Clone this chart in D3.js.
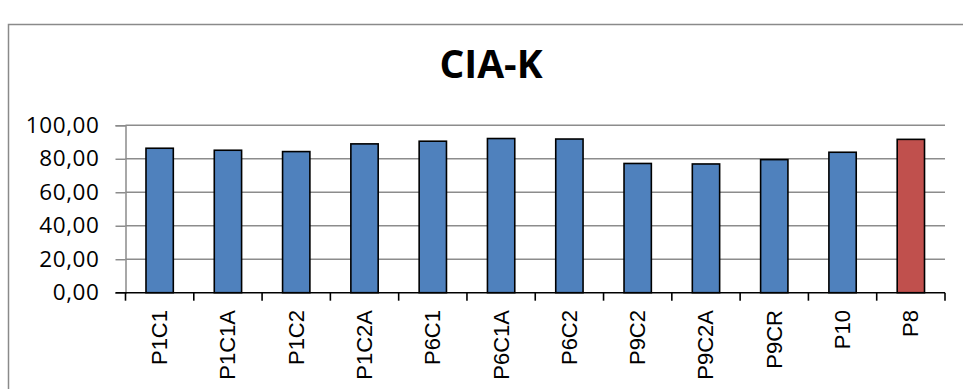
<!DOCTYPE html>
<html>
<head>
<meta charset="utf-8">
<script src="https://cdn.jsdelivr.net/npm/d3@7"></script>
<style>
  html, body { margin: 0; padding: 0; background: #fff; }
  svg { display: block; }
</style>
</head>
<body>
<svg id="chart" width="963" height="389"></svg>
<script>
// CIA-K values per sample
const categories = ["P1C1", "P1C1A", "P1C2", "P1C2A", "P6C1", "P6C1A", "P6C2", "P9C2", "P9C2A", "P9CR", "P10", "P8"];
const values = [86.3, 85.1, 84.3, 88.9, 90.5, 92.1, 91.8, 77.2, 76.9, 79.5, 83.9, 91.6];
const barColors = ["#4f81bd", "#4f81bd", "#4f81bd", "#4f81bd", "#4f81bd", "#4f81bd", "#4f81bd", "#4f81bd", "#4f81bd", "#4f81bd", "#4f81bd", "#c0504d"];
const yTicks = [0, 20, 40, 60, 80, 100];
const title = "CIA-K";

const svg = d3.select("#chart");
const plot = { left: 125.5, right: 945, top: 125.3, bottom: 292.7 };

// outer chart frame (left and top edges)
svg.append("path")
  .attr("d", `M8.5,389 V24.5 H963`)
  .attr("fill", "none")
  .attr("stroke", "#8a8a8a")
  .attr("stroke-width", 1.5);

svg.append("text")
  .attr("x", 491)
  .attr("y", 78)
  .attr("text-anchor", "middle")
  .attr("font-family", "'Open Sans', sans-serif")
  .attr("font-weight", 700)
  .attr("font-size", 39)
  .attr("fill", "#000")
  .text(title);

const x = d3.scaleBand()
  .domain(categories)
  .range([plot.left, plot.right])
  .paddingInner(0.6)
  .paddingOuter(0.3);

const y = d3.scaleLinear()
  .domain([0, 100])
  .range([plot.bottom, plot.top]);

// horizontal gridlines
svg.append("g")
  .selectAll("line")
  .data(yTicks.filter(d => d > 0))
  .join("line")
  .attr("x1", plot.left)
  .attr("x2", plot.right)
  .attr("y1", d => y(d))
  .attr("y2", d => y(d))
  .attr("stroke", "#8c8c8c")
  .attr("stroke-width", 1.6);

// y axis
const yAxis = svg.append("g")
  .attr("transform", `translate(${plot.left},0)`)
  .call(d3.axisLeft(y)
    .tickValues(yTicks)
    .tickSize(10)
    .tickPadding(16)
    .tickFormat(d => d3.format(".2f")(d).replace(".", ",")));
yAxis.select(".domain").attr("stroke", "#8c8c8c").attr("stroke-width", 1.5);
yAxis.selectAll(".tick line").attr("stroke", "#8c8c8c").attr("stroke-width", 1.5);
yAxis.selectAll(".tick text")
  .attr("font-family", "'Open Sans', sans-serif")
  .attr("font-size", 22.5)
  .attr("letter-spacing", 0.6)
  .attr("fill", "#000");

// bars
svg.append("g")
  .selectAll("rect")
  .data(categories.map((c, i) => ({ c, v: values[i], color: barColors[i] })))
  .join("rect")
  .attr("x", d => x(d.c))
  .attr("width", x.bandwidth())
  .attr("y", d => y(d.v))
  .attr("height", d => y(0) - y(d.v))
  .attr("fill", d => d.color)
  .attr("stroke", "#000")
  .attr("stroke-width", 1.6);

// x axis with ticks at category boundaries
const boundaries = categories.map((_, i) => plot.left + i * (plot.right - plot.left) / categories.length);
boundaries.push(plot.right);

const xAxisG = svg.append("g");
xAxisG.append("line")
  .attr("x1", plot.left - 10)
  .attr("x2", plot.right)
  .attr("y1", plot.bottom)
  .attr("y2", plot.bottom)
  .attr("stroke", "#000")
  .attr("stroke-width", 1.6);
xAxisG.selectAll("line.tick")
  .data(boundaries)
  .join("line")
  .attr("class", "tick")
  .attr("x1", d => d)
  .attr("x2", d => d)
  .attr("y1", plot.bottom)
  .attr("y2", plot.bottom + 8)
  .attr("stroke", "#000")
  .attr("stroke-width", 1.6);

// rotated category labels
xAxisG.selectAll("text")
  .data(categories)
  .join("text")
  .attr("transform", d => `translate(${x(d) + x.bandwidth() / 2 + 7.5},310) rotate(-90)`)
  .attr("text-anchor", "end")
  .attr("font-family", "'Liberation Sans', Arial, sans-serif")
  .attr("font-size", 22)
  .attr("fill", "#000")
  .text(d => d);
</script>
</body>
</html>
